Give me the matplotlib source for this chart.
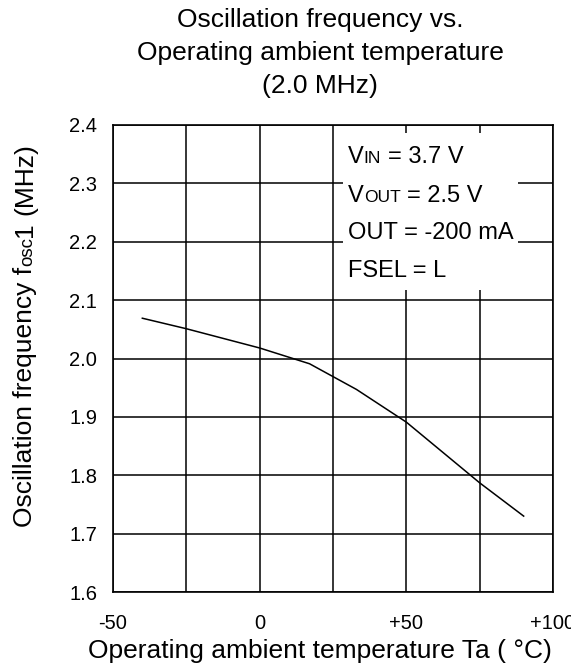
import matplotlib
matplotlib.use("Agg")
import matplotlib.pyplot as plt
from matplotlib.patches import Rectangle

plt.rcParams['font.family'] = ['Liberation Sans', 'DejaVu Sans']

# Oscillation frequency vs. ambient temperature
temp_c = [-40, -25, 0, 17, 33, 50, 75, 90]
freq_mhz = [2.069, 2.051, 2.018, 1.991, 1.947, 1.891, 1.787, 1.730]

x_ticks = [-50, 0, 50, 100]
x_tick_labels = ["-50", "0", "+50", "+100"]
x_grid = [-50, -25, 0, 25, 50, 75, 100]
y_ticks = [1.6, 1.7, 1.8, 1.9, 2.0, 2.1, 2.2, 2.3, 2.4]

title_lines = ["Oscillation frequency vs.", "Operating ambient temperature", "(2.0 MHz)"]

W, H = 571, 671
fig = plt.figure(figsize=(W / 100, H / 100), dpi=100)
ax = fig.add_axes([113 / W, 1 - 592 / H, 440 / W, 467 / H])
renderer = fig.canvas.get_renderer()

ax.set_xlim(-50, 100)
ax.set_ylim(1.6, 2.4)

lw = 1.1
for xv in x_grid:
    ax.axvline(xv, color='black', lw=lw, zorder=1)
for yv in y_ticks:
    ax.axhline(yv, color='black', lw=lw, zorder=1)

ax.plot(temp_c, freq_mhz, color='black', lw=1.1, zorder=3)

for s in ax.spines.values():
    s.set_linewidth(1.2)
    s.set_color('black')

ax.set_xticks(x_ticks)
ax.set_xticklabels(x_tick_labels)
ax.set_yticks(y_ticks)
ax.set_yticklabels([f"{v:.1f}" for v in y_ticks])
ax.tick_params(length=0, labelsize=14.5)
ax.tick_params(axis='x', pad=15.5)
ax.tick_params(axis='y', pad=11.5)

BIG = 19
SMALL = 13.5

# x-axis title
fig.text(320 / W, 1 - 658 / H, "Operating ambient temperature Ta ( °C)",
         ha='center', va='baseline', fontsize=BIG)

# figure title, one line at a time
for line, base in zip(title_lines, [27, 60, 93]):
    fig.text(320 / W, 1 - base / H, line, ha='center', va='baseline', fontsize=BIG)


def chain(x_px, y_px, parts, vertical=False):
    """Set (text, fontsize, gap_before_em) pieces end to end on one baseline.

    x_px, y_px: start of the baseline in pixels from the top-left corner.
    """
    pos = y_px if vertical else x_px
    for s, fs, gap in parts:
        pos += (-1 if vertical else 1) * gap * fs * 100 / 72
        if vertical:
            t = fig.text(x_px / W, 1 - pos / H, s, fontsize=fs, rotation=90,
                         rotation_mode='anchor', ha='left', va='baseline', zorder=4)
            pos -= t.get_window_extent(renderer).height
        else:
            t = fig.text(pos / W, 1 - y_px / H, s, fontsize=fs,
                         ha='left', va='baseline', zorder=4)
            pos += t.get_window_extent(renderer).width


SP = 0.278  # width of a space, in em

# y-axis title with the reduced "osc" letters
chain(32, 527, [("Oscillation frequency f", BIG, 0), ("osc", SMALL, 0.02),
                ("1", BIG, 0.02), ("(MHz)", BIG, SP)], vertical=True)

# White panel behind the condition notes
ax.add_patch(Rectangle(((343 - 113) / 440, (592 - 290) / 467),
                       (518 - 343) / 440, (290 - 133) / 467,
                       transform=ax.transAxes, facecolor='white',
                       edgecolor='none', zorder=2))

NOTE = 17
NOTE_SMALL = 12.5
tx = 348
chain(tx, 163, [("V", NOTE, 0), ("IN", NOTE_SMALL, 0.0), ("= 3.7 V", NOTE, SP)])
chain(tx, 202, [("V", NOTE, 0), ("OUT", NOTE_SMALL, 0.0), ("= 2.5 V", NOTE, SP)])
chain(tx, 239, [("OUT = -200 mA", NOTE, 0)])
chain(tx, 277, [("FSEL = L", NOTE, 0)])

fig.savefig("out.png", dpi=100)
